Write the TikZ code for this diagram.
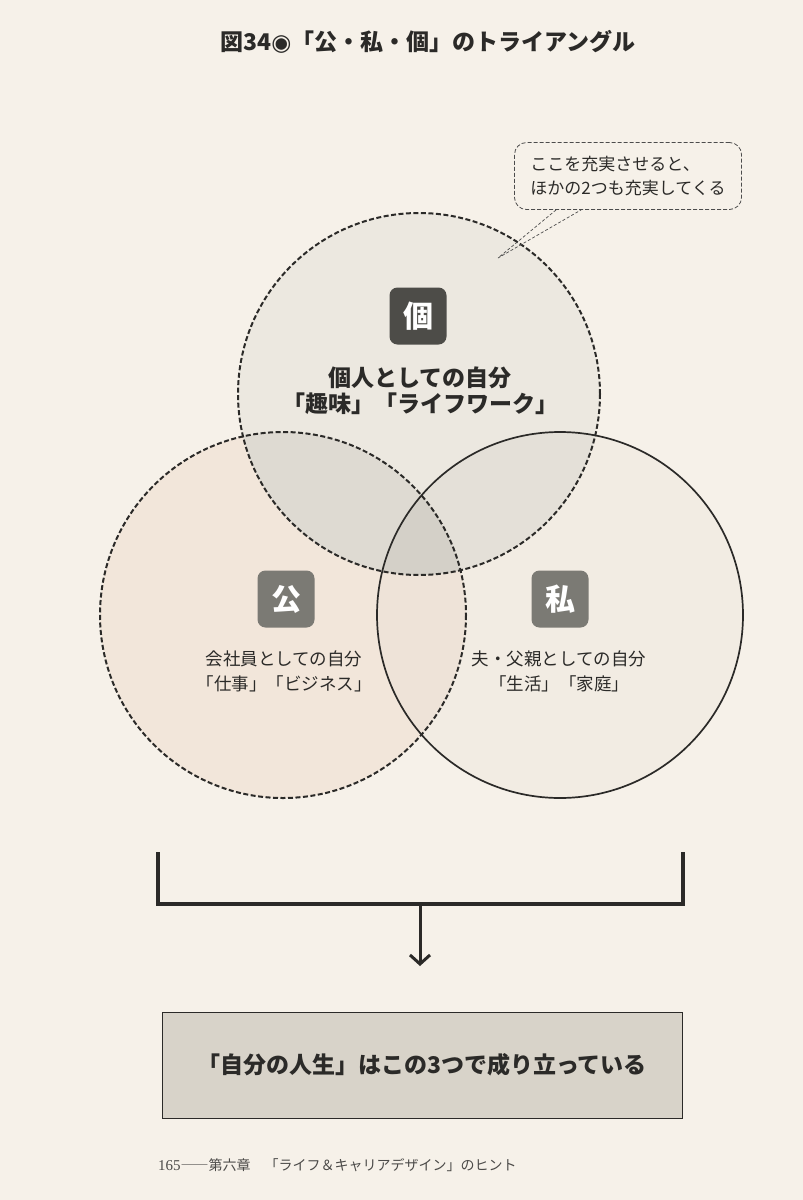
\documentclass[tikz,border=0pt]{standalone}
\usepackage{fontspec}
\setmainfont{Noto Sans CJK JP}
\newfontfamily\symfont{DejaVu Sans}
\newfontfamily\pagefont{Liberation Serif}
\usepackage{xcolor}
\usetikzlibrary{
  positioning,
  calc,
  arrows.meta
}

\definecolor{paper}{HTML}{F6F1E9}
\definecolor{inkdark}{HTML}{2B2A28}
\definecolor{kojinfill}{HTML}{ECE8E0}
\definecolor{ooyakefill}{HTML}{F2E6DA}
\definecolor{watafill}{HTML}{F2ECE3}
\definecolor{kofill}{HTML}{DEDAD2}
\definecolor{kwfill}{HTML}{E4E0D8}
\definecolor{owfill}{HTML}{EEE3D8}
\definecolor{allfill}{HTML}{D4D0C8}
\definecolor{tagdark}{HTML}{4D4C48}
\definecolor{taggray}{HTML}{7B7A74}
\definecolor{boxgray}{HTML}{D8D3C9}

\begin{document}
\begin{tikzpicture}[x=1pt, y=-1pt,
  ring/.style={line width=2pt, dash pattern=on 5pt off 2.5pt, draw=inkdark},
  ringsolid/.style={line width=1.7pt, draw=inkdark},
  tag/.style={rounded corners=8pt, minimum size=57pt, inner sep=0pt, text=white,
    font=\bfseries\fontsize{30}{30}\selectfont},
  roletext/.style={align=center, text=inkdark, font=\fontsize{17.5}{25}\selectfont},
  bracket/.style={line width=4pt, draw=inkdark, line join=miter},
  note/.style={draw=black!70, line width=0.8pt, dash pattern=on 4pt off 2pt,
    rounded corners=12pt, minimum width=227pt, minimum height=67pt,
    align=left, text=inkdark, font=\fontsize{17}{24}\selectfont}
]
  \useasboundingbox (0,0) rectangle (803,1200);
  \fill[paper] (0,0) rectangle (803,1200);

  % Title
  \node[font=\bfseries\fontsize{23}{23}\selectfont, text=inkdark] (title) at (428,42)
    {図34{\symfont\bfseries ◉}「公・私・個」のトライアングル};

  % Circle centres
  \coordinate (kojin) at (419,394);
  \coordinate (ooyake) at (283,615);
  \coordinate (wata) at (560,615);

  % Fills and overlaps
  \fill[ooyakefill] (ooyake) circle (183);
  \fill[watafill] (wata) circle (183);
  \fill[kojinfill] (kojin) circle (181);
  \begin{scope}
    \clip (ooyake) circle (183);
    \fill[owfill] (wata) circle (183);
  \end{scope}
  \begin{scope}
    \clip (kojin) circle (181);
    \fill[kofill] (ooyake) circle (183);
    \fill[kwfill] (wata) circle (183);
    \clip (ooyake) circle (183);
    \fill[allfill] (wata) circle (183);
  \end{scope}

  % Outlines
  \draw[ringsolid] (wata) circle (183);
  \draw[ring] (ooyake) circle (183);
  \draw[ring] (kojin) circle (181);

  % Labels
  \node[tag, fill=tagdark] (kotag) at (418,316) {個};
  \node[align=center, text=inkdark, font=\bfseries\fontsize{23}{26}\selectfont] (kotext) at (420,391)
    {個人としての自分\\「趣味」「ライフワーク」};

  \node[tag, fill=taggray] (ootag) at (286,599) {公};
  \node[roletext] (ootext) at (284,671) {会社員としての自分\\「仕事」「ビジネス」};

  \node[tag, fill=taggray] (watag) at (560,599) {私};
  \node[roletext] (watext) at (559,671) {夫・父親としての自分\\「生活」「家庭」};

  % Callout
  \node[note] (hint) at (628,176)
    {ここを充実させると、\\ほかの2つも充実してくる};
  \coordinate (tip) at (498,258);
  \draw[black!70, line width=0.7pt, dash pattern=on 3pt off 2pt]
    ([xshift=42pt]hint.south west) -- (tip) -- ([xshift=67pt]hint.south west);

  % Bracket and arrow
  \coordinate (brL) at (158,852);
  \coordinate (brLc) at (158,904);
  \coordinate (brRc) at (683,904);
  \coordinate (brR) at (683,852);
  \coordinate (brM) at (420,904);
  \coordinate (arrEnd) at (420,966);
  \draw[bracket] (brL) -- (brLc) -- (brRc) -- (brR);
  \draw[line width=3pt, draw=inkdark, -{Straight Barb[length=9pt, width=20pt]}] (brM) -- (arrEnd);

  % Summary box
  \node[draw=inkdark, line width=1pt, fill=boxgray, minimum width=520pt, minimum height=106pt,
    text=inkdark, font=\bfseries\fontsize{23}{23}\selectfont] (summary) at (422,1065)
    {「自分の人生」はこの3つで成り立っている};

  % Footer
  \node[anchor=west, text=inkdark!85, font=\fontsize{14}{14}\selectfont, inner sep=0pt] (footer) at (158,1165)
    {{\pagefont\fontsize{15}{15}\selectfont 165}――第六章　「ライフ＆キャリアデザイン」のヒント};
\end{tikzpicture}
\end{document}
